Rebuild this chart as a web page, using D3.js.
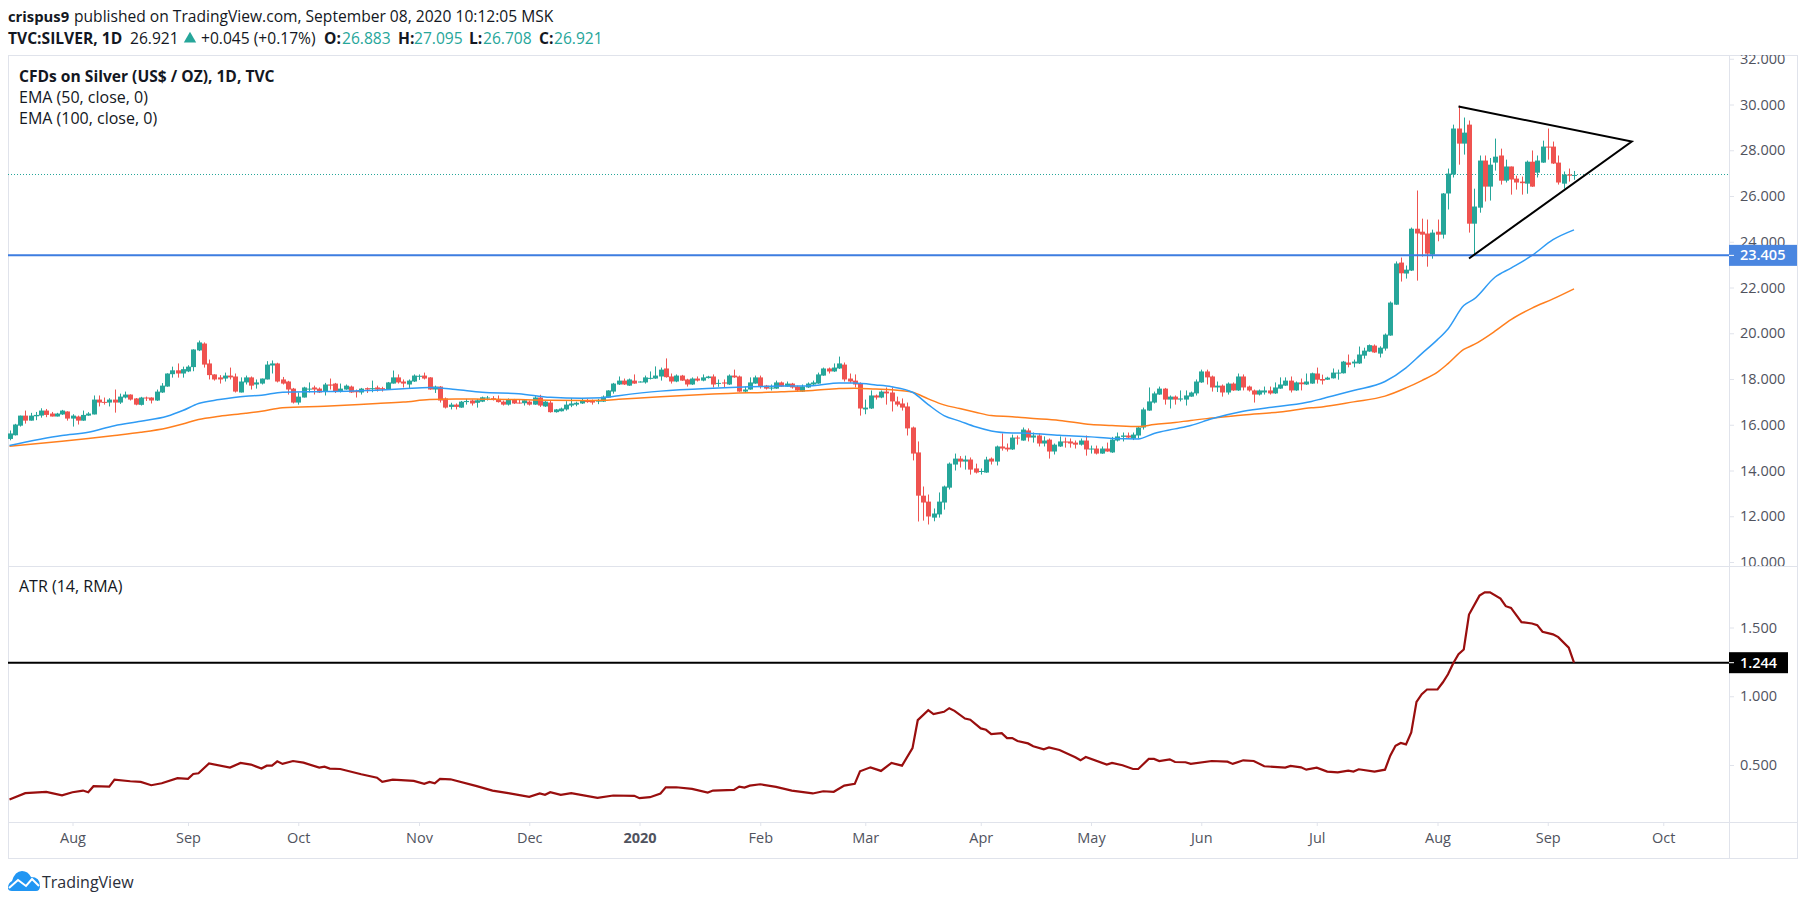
<!DOCTYPE html>
<html>
<head>
<meta charset="utf-8">
<title>CFDs on Silver</title>
<script src="https://cdnjs.cloudflare.com/ajax/libs/d3/7.8.5/d3.min.js"></script>
<style>
  body { margin: 0; background: #fff; }
  text { font-family: "Open Sans", sans-serif; }
</style>
</head>
<body>
<script>
// candles, one entry per trading day
var opens = [15.38,15.54,15.96,16.40,16.18,16.37,16.40,16.62,16.49,16.36,16.45,16.58,16.27,16.36,16.18,16.40,16.45,17.10,17.00,16.97,17.10,16.97,17.19,17.32,17.15,16.87,17.19,17.19,17.06,17.41,17.67,18.21,18.38,18.24,18.33,18.52,19.25,19.55,18.68,18.20,18.07,18.02,18.15,18.11,17.41,17.85,18.07,17.76,17.80,17.98,18.59,18.68,17.98,17.89,17.58,16.97,17.19,17.54,17.63,17.58,17.45,17.76,17.80,17.45,17.54,17.67,17.48,17.41,17.60,17.57,17.63,17.60,17.54,17.80,18.07,17.89,17.76,17.89,18.11,18.15,18.07,17.54,17.67,17.15,
  16.78,16.88,16.75,16.99,17.06,16.96,17.01,17.15,17.16,17.13,17.01,16.88,17.10,16.97,16.94,17.01,16.88,17.19,16.80,16.97,16.55,16.59,16.67,16.84,16.88,16.93,17.06,17.06,17.01,17.01,17.19,17.45,17.76,17.93,17.71,17.93,17.86,17.85,18.02,18.02,18.11,18.46,18.11,17.89,18.15,17.98,17.76,18.02,17.93,18.04,18.11,17.79,17.85,17.76,18.15,18.11,17.45,17.54,17.80,18.07,17.71,17.58,17.58,17.85,17.67,17.80,17.67,17.45,17.63,17.76,17.80,18.15,18.46,18.33,18.46,18.63,18.02,17.93,
  17.80,16.67,16.71,17.28,17.19,17.45,17.41,17.02,16.93,16.80,15.88,14.79,12.90,12.64,11.94,12.08,12.60,13.25,14.26,14.52,14.39,14.48,14.09,13.94,13.91,14.52,14.39,15.05,15.00,14.92,15.44,15.31,15.75,15.44,15.53,15.18,15.35,14.83,15.05,15.27,15.27,15.22,15.13,15.31,14.92,14.96,14.74,14.96,14.79,15.31,15.47,15.53,15.40,15.53,15.88,16.62,16.97,17.32,17.58,17.10,17.23,17.10,17.10,17.23,17.37,17.85,18.33,18.11,17.63,17.71,17.41,17.80,17.50,18.11,17.67,17.50,17.32,17.41,17.50,17.37,17.58,17.71,17.93,17.50,17.85,17.76,
  17.80,18.24,18.00,17.97,18.03,18.25,18.25,18.72,18.68,18.68,19.02,19.20,19.46,19.11,19.33,19.90,21.25,23.09,22.61,22.74,24.57,24.44,24.36,23.44,24.44,24.31,26.11,26.94,28.95,28.29,29.12,24.79,25.49,27.55,26.41,27.46,27.77,26.67,27.29,26.76,26.63,26.54,27.50,27.02,27.46,28.16,28.16,27.46,26.54,26.94,26.883];
var highs = [15.75,16.04,16.40,16.62,16.52,16.56,16.72,16.69,16.56,16.52,16.65,16.59,16.46,16.40,16.62,16.55,17.28,17.28,17.19,17.16,17.54,17.36,17.45,17.33,17.17,17.22,17.23,17.20,17.54,17.82,18.25,18.54,18.68,18.54,18.60,19.30,19.68,19.60,18.85,18.21,18.17,18.28,18.50,18.24,18.07,18.15,18.11,17.98,18.02,18.78,18.81,18.71,18.09,17.92,17.61,17.41,17.66,17.85,17.71,17.63,17.83,18.02,17.83,17.80,17.76,17.71,17.54,17.61,17.63,17.93,17.71,17.66,17.87,18.37,18.20,17.98,17.98,18.20,18.20,18.28,18.08,17.71,17.69,17.19,
  16.96,16.93,17.04,17.13,17.10,17.13,17.23,17.26,17.25,17.28,17.06,17.15,17.13,17.09,17.10,17.06,17.25,17.31,17.04,17.07,16.69,16.75,17.03,17.16,17.01,17.15,17.13,17.10,17.13,17.28,17.51,17.83,18.11,18.02,18.02,18.20,17.90,18.15,18.33,18.55,18.50,18.90,18.24,18.20,18.18,18.01,18.07,18.11,18.20,18.14,18.20,17.98,17.98,18.20,18.41,18.15,17.67,18.07,18.15,18.15,17.74,17.76,17.93,17.89,17.89,17.83,17.71,17.76,17.85,17.93,18.28,18.50,18.50,18.68,18.98,18.72,18.24,18.20,
  17.85,17.10,17.50,17.32,17.50,17.63,17.63,17.23,17.15,16.97,15.92,15.27,13.30,12.95,12.34,13.04,13.34,14.35,14.74,14.63,14.65,14.57,14.30,14.09,14.60,14.57,15.09,15.62,15.18,15.57,15.53,15.88,15.84,15.66,15.62,15.49,15.40,15.18,15.49,15.44,15.40,15.31,15.40,15.53,15.09,15.09,15.05,15.22,15.47,15.66,15.66,15.66,15.66,15.92,16.75,17.63,17.45,17.67,17.61,17.28,17.28,17.50,17.50,17.45,17.98,18.41,18.41,18.15,17.89,17.76,17.85,17.85,18.24,18.20,17.71,17.54,17.54,17.67,17.67,17.85,18.07,18.07,18.11,17.89,18.02,18.24,
  18.28,18.50,18.19,18.10,18.46,18.41,18.79,19.07,18.85,19.42,19.37,19.51,19.51,19.43,19.99,21.39,23.14,23.31,22.96,24.62,26.24,25.01,24.97,24.53,24.97,26.13,27.20,29.12,29.95,29.43,29.30,26.32,27.77,27.77,27.66,28.51,28.07,27.59,27.29,26.89,26.85,27.55,27.99,27.77,28.42,28.95,28.38,27.77,27.07,27.20,27.095];
var lows = [15.32,15.53,15.92,16.05,16.18,16.20,16.31,16.33,16.36,16.36,16.43,16.18,15.92,16.01,16.17,16.39,16.45,16.80,16.88,16.80,16.53,16.91,17.15,17.06,16.85,16.84,17.04,16.93,17.04,17.39,17.66,18.06,18.06,18.06,18.30,18.34,19.22,18.50,17.98,17.93,17.80,17.89,17.98,17.41,17.41,17.76,17.54,17.58,17.76,17.98,18.24,17.85,17.76,17.32,16.93,16.88,17.19,17.41,17.32,17.39,17.28,17.54,17.39,17.41,17.53,17.39,17.19,17.32,17.39,17.42,17.45,17.45,17.53,17.80,17.80,17.63,17.57,17.87,17.96,17.98,17.53,17.39,16.97,16.71,
  16.67,16.67,16.74,16.88,16.84,16.75,16.99,17.06,17.06,16.97,16.84,16.84,16.91,16.93,16.84,16.84,16.87,16.78,16.78,16.53,16.53,16.58,16.62,16.77,16.81,16.91,16.96,16.88,16.90,17.00,17.18,17.36,17.74,17.74,17.70,17.79,17.85,17.80,17.98,18.01,17.93,18.06,17.80,17.86,17.92,17.67,17.74,17.89,17.90,18.02,17.63,17.66,17.63,17.74,18.05,17.44,17.39,17.53,17.79,17.58,17.54,17.50,17.57,17.66,17.66,17.58,17.45,17.44,17.61,17.71,17.79,18.14,18.24,18.31,18.44,17.89,17.83,17.63,
  16.40,16.46,16.69,17.10,17.16,16.88,16.58,16.80,16.62,15.53,14.44,11.77,11.81,11.64,11.78,11.94,12.29,13.17,14.00,14.13,14.04,13.82,13.87,13.82,13.90,14.26,14.22,14.87,14.83,14.90,15.13,15.30,15.27,15.22,15.05,15.05,14.52,14.70,15.03,15.00,15.00,14.96,15.09,14.65,14.74,14.70,14.73,14.82,14.77,15.27,15.27,15.40,15.33,15.40,15.79,16.61,16.93,17.31,16.88,16.71,16.88,17.02,16.84,17.22,17.28,17.83,17.76,17.45,17.43,17.23,17.32,17.48,17.48,17.50,17.45,16.97,17.28,17.32,17.32,17.35,17.57,17.70,17.41,17.48,17.50,17.74,
  17.79,17.80,17.76,17.96,18.02,17.97,18.24,18.51,18.51,18.66,18.89,19.19,19.14,18.94,19.24,19.89,21.24,22.26,22.39,22.72,22.30,23.35,22.91,23.26,24.02,24.14,25.41,26.81,27.37,27.81,24.40,23.44,25.27,25.76,25.80,27.11,26.50,26.59,26.06,26.28,26.06,26.10,26.40,26.81,27.45,27.59,27.40,26.50,26.32,26.63,26.708];
var closes = [15.62,16.01,16.40,16.18,16.40,16.43,16.62,16.43,16.36,16.49,16.62,16.27,16.40,16.18,16.43,16.49,17.10,16.97,16.97,17.10,16.97,17.23,17.32,17.10,16.88,17.19,17.15,17.06,17.45,17.71,18.24,18.38,18.24,18.43,18.54,19.29,19.60,18.63,18.17,17.98,17.98,18.15,18.07,17.45,17.89,18.07,17.71,17.85,18.02,18.63,18.68,17.89,17.80,17.54,16.97,17.23,17.63,17.58,17.54,17.41,17.76,17.71,17.45,17.58,17.71,17.41,17.42,17.58,17.54,17.60,17.54,17.54,17.85,18.07,17.85,17.80,17.93,18.15,18.14,18.02,17.54,17.67,17.06,16.75,
  16.88,16.78,17.01,17.04,16.93,17.07,17.20,17.19,17.12,16.99,16.88,17.10,16.93,16.94,17.07,16.88,17.19,16.84,17.01,16.55,16.67,16.71,16.88,16.93,16.96,17.06,16.99,16.97,17.06,17.23,17.50,17.80,17.93,17.76,17.98,17.80,17.89,18.07,18.05,18.15,18.41,18.08,17.89,18.15,17.93,17.76,18.02,17.93,18.07,18.11,17.76,17.83,17.80,18.15,18.07,17.45,17.54,17.85,18.07,17.67,17.58,17.63,17.85,17.67,17.80,17.63,17.50,17.67,17.80,17.85,18.20,18.46,18.33,18.50,18.68,17.98,17.89,17.76,
  16.71,16.75,17.28,17.19,17.45,17.37,17.02,16.88,16.75,15.84,14.74,12.90,12.60,11.99,12.12,12.64,13.30,14.30,14.52,14.39,14.48,14.04,13.91,13.98,14.48,14.39,15.05,14.96,14.92,15.44,15.40,15.79,15.44,15.53,15.18,15.31,14.83,15.13,15.27,15.22,15.18,15.13,15.31,14.92,14.96,14.74,14.96,14.83,15.35,15.49,15.53,15.44,15.57,15.88,16.67,17.02,17.37,17.58,17.10,17.23,17.10,17.15,17.28,17.41,17.89,18.33,18.07,17.63,17.71,17.41,17.80,17.50,18.11,17.63,17.50,17.32,17.50,17.50,17.37,17.63,17.76,17.93,17.50,17.85,17.77,17.89,
  18.25,17.97,17.93,18.06,18.28,18.28,18.76,18.62,18.76,19.07,19.24,19.48,19.16,19.37,19.94,21.34,23.05,22.62,22.78,24.57,24.36,24.31,23.48,24.40,24.31,26.11,26.98,28.95,28.29,28.77,24.79,25.54,27.55,26.41,27.37,27.72,26.67,27.29,26.72,26.59,26.56,27.50,26.41,27.55,28.16,28.13,27.42,26.59,26.94,26.89,26.921];

// moving averages, read at these bars
var emaBars = [0,10,15,20,25,30,33,36,40,45,48,52,60,70,75,80,85,90,97,103,109,113,116,124,134,147,153,158,161,165,168,172,175,178,181,184,187,191,194,200,206,210,215,218,222,225,229,235,242,248,250,256,262,266,269,272,274,277,279,283,286,290,294,298];
var ema50 = [15.09,15.53,15.67,15.96,16.15,16.37,16.62,16.93,17.10,17.25,17.29,17.42,17.45,17.51,17.57,17.63,17.54,17.42,17.36,17.20,17.16,17.18,17.27,17.47,17.60,17.69,17.71,17.83,17.82,17.74,17.66,17.42,16.88,16.40,16.16,15.91,15.73,15.64,15.63,15.54,15.47,15.40,15.38,15.62,15.82,15.97,16.26,16.59,16.81,17.02,17.14,17.50,17.89,18.49,19.11,19.72,20.19,21.21,21.50,22.46,22.85,23.40,24.09,24.52];
var ema100 = [15.06,15.28,15.40,15.53,15.67,15.86,16.03,16.23,16.37,16.50,16.59,16.74,16.81,16.93,16.99,17.10,17.13,17.12,17.10,17.07,17.06,17.07,17.11,17.22,17.34,17.44,17.50,17.58,17.60,17.56,17.53,17.42,17.13,16.87,16.71,16.55,16.40,16.35,16.29,16.19,16.01,15.97,15.92,16.01,16.10,16.19,16.29,16.43,16.56,16.74,16.78,17.00,17.25,17.61,17.93,18.30,18.67,19.29,19.51,20.10,20.60,21.10,21.50,21.94];

// ATR pane
var atrBars = [0,3,7,10,12,14,15,16,19,20,23,25,27,29,32,34,35,36,38,42,44,46,48,49,50,51,52,54,56,59,60,61,63,67,70,71,73,77,79,80,81,82,84,89,92,95,99,101,102,103,105,107,112,115,119,120,122,124,125,127,130,133,134,138,139,140,141,143,146,149,153,155,157,159,161,162,164,166,168,170,172,173,175,176,178,179,180,182,183,185,186,187,189,190,191,192,194,195,197,198,200,203,204,205,209,210,212,214,215,217,218,219,221,222,224,225,229,232,233,235,237,239,243,244,246,247,249,251,253,255,256,257,260,262,263,264,265,266,267,268,269,270,272,273,274,275,276,277,278,280,281,282,284,285,286,288,290,291,292,294,295,297,298];
var atr = [0.249,0.295,0.305,0.280,0.302,0.314,0.302,0.346,0.343,0.394,0.382,0.377,0.353,0.367,0.404,0.399,0.435,0.440,0.512,0.481,0.515,0.503,0.474,0.495,0.495,0.527,0.508,0.529,0.517,0.481,0.488,0.474,0.471,0.433,0.408,0.377,0.394,0.384,0.363,0.377,0.367,0.399,0.396,0.346,0.314,0.295,0.268,0.293,0.283,0.302,0.283,0.295,0.261,0.278,0.276,0.259,0.266,0.293,0.338,0.338,0.326,0.300,0.314,0.319,0.343,0.336,0.350,0.360,0.341,0.314,0.293,0.309,0.305,0.350,0.363,0.454,0.483,0.457,0.515,0.495,0.623,0.826,0.899,0.870,0.887,0.913,0.894,0.838,0.829,0.766,0.756,0.725,0.732,0.696,0.696,0.674,0.657,0.636,0.614,0.628,0.609,0.556,0.534,0.558,0.503,0.515,0.498,0.471,0.471,0.544,0.544,0.529,0.541,0.522,0.520,0.508,0.529,0.524,0.508,0.534,0.529,0.491,0.481,0.493,0.483,0.466,0.481,0.452,0.447,0.459,0.452,0.469,0.452,0.466,0.568,0.640,0.660,0.650,0.737,0.959,1.015,1.049,1.049,1.100,1.160,1.240,1.305,1.340,1.594,1.732,1.756,1.756,1.710,1.655,1.643,1.539,1.529,1.517,1.469,1.450,1.430,1.353,1.244];

// axis labels
var priceTicks = [10,12,14,16,18,20,22,24,26,28,30,32];
var atrTicks = [0.5,1,1.5];
var monthBars = [12,34,55,78,99,120,143,163,185,206,227,249,272,293,315];
var monthNames = ["Aug","Sep","Oct","Nov","Dec","2020","Feb","Mar","Apr","May","Jun","Jul","Aug","Sep","Oct"];

// drawn levels and the triangle, [bar, price]
var supportLevel = 23.405;
var atrLevel = 1.244;
var lastPrice = 26.921;
var triangleBars = [278, 309, 276];
var trianglePrices = [23.27, 28.38, 29.91];

var green = "#26a69a", red = "#ef5350", border = "#e0e3eb", axisText = "#50535e", ink = "#131722";
var left = 8, right = 1729, outer = 1797, top_ = 55, split = 566, bottom = 822, foot = 858;

var svg = d3.select("body").append("svg")
  .attr("width", 1805)
  .attr("height", 905)
  .style("display", "block");

var x = d3.scaleLinear().domain([0, 298]).range([9.5, 1574]);
var y = d3.scaleLinear().domain([10, 32]).range([562, 58.75]);
var yAtr = d3.scaleLinear().domain([0.5, 1.5]).range([765, 627.5]);

var defs = svg.append("defs");
defs.append("clipPath").attr("id", "priceClip").append("rect")
  .attr("x", left).attr("y", top_).attr("width", outer - left).attr("height", split - top_);
defs.append("clipPath").attr("id", "atrClip").append("rect")
  .attr("x", left).attr("y", split).attr("width", outer - left).attr("height", bottom - split);

// frame
svg.append("rect").attr("x", left + 0.5).attr("y", top_ + 0.5)
  .attr("width", outer - left).attr("height", foot - top_)
  .attr("fill", "none").attr("stroke", border);
[[left, split, outer, split], [left, bottom, outer, bottom], [right, top_, right, foot]].forEach(function(l){
  svg.append("line")
    .attr("x1", l[0]).attr("y1", l[1] + 0.5).attr("x2", l[2]).attr("y2", l[3] + 0.5)
    .attr("transform", l[0] == l[2] ? "translate(0.5,-0.5)" : null)
    .attr("stroke", border);
});

// last price
svg.append("line")
  .attr("x1", left).attr("x2", right)
  .attr("y1", Math.round(y(lastPrice)) - 0.5).attr("y2", Math.round(y(lastPrice)) - 0.5)
  .attr("stroke", green).attr("stroke-dasharray", "1 2");

// axes
function styleAxis(g){
  g.select(".domain").remove();
  g.selectAll("line").attr("stroke", border);
  g.selectAll("text").attr("fill", axisText).style("font-size", "14.5px");
}

svg.append("g")
  .attr("clip-path", "url(#priceClip)")
  .append("g")
  .attr("transform", "translate(" + right + ",0)")
  .call(d3.axisRight(y).tickValues(priceTicks).tickSize(5).tickPadding(6).tickFormat(d3.format(".3f")))
  .call(styleAxis);

svg.append("g")
  .attr("transform", "translate(" + right + ",0)")
  .call(d3.axisRight(yAtr).tickValues(atrTicks).tickSize(5).tickPadding(6).tickFormat(d3.format(".3f")))
  .call(styleAxis);

svg.append("g")
  .attr("transform", "translate(0," + bottom + ")")
  .call(d3.axisBottom(x).tickValues(monthBars).tickSize(4).tickPadding(7)
    .tickFormat(function(d, i){ return monthNames[i]; }))
  .call(styleAxis)
  .selectAll("text")
  .style("font-weight", function(d, i){ return monthNames[i] == "2020" ? "700" : "400"; });

// candles
var bars = d3.range(opens.length);
var candles = svg.append("g").attr("class", "candles");

candles.selectAll("line")
  .data(bars)
  .enter()
  .append("line")
  .attr("x1", function(d){ return Math.round(x(d)) + 0.5; })
  .attr("x2", function(d){ return Math.round(x(d)) + 0.5; })
  .attr("y1", function(d){ return y(highs[d]); })
  .attr("y2", function(d){ return y(lows[d]); })
  .attr("stroke", function(d){ return closes[d] >= opens[d] ? green : red; });

candles.selectAll("rect")
  .data(bars)
  .enter()
  .append("rect")
  .attr("x", function(d){ return Math.round(x(d)) - 2; })
  .attr("width", 5)
  .attr("y", function(d){ return y(Math.max(opens[d], closes[d])); })
  .attr("height", function(d){ return Math.max(1, Math.abs(y(opens[d]) - y(closes[d]))); })
  .attr("fill", function(d){ return closes[d] >= opens[d] ? green : red; });

// EMAs
var emaLine = d3.line()
  .x(function(d){ return x(d[0]); })
  .y(function(d){ return y(d[1]); })
  .curve(d3.curveMonotoneX);

svg.append("path")
  .attr("d", emaLine(d3.zip(emaBars, ema100)))
  .attr("fill", "none").attr("stroke", "#ff7f1e").attr("stroke-width", 1.5);

svg.append("path")
  .attr("d", emaLine(d3.zip(emaBars, ema50)))
  .attr("fill", "none").attr("stroke", "#2f9bf4").attr("stroke-width", 1.5);

// support level and triangle
svg.append("line")
  .attr("x1", left).attr("x2", right)
  .attr("y1", y(supportLevel)).attr("y2", y(supportLevel))
  .attr("stroke", "#3d7de0").attr("stroke-width", 2);

var trianglePath = d3.line()
  .x(function(d){ return x(d[0]); })
  .y(function(d){ return y(d[1]); });

svg.append("path")
  .attr("d", trianglePath(d3.zip(triangleBars, trianglePrices)))
  .attr("fill", "none").attr("stroke", "#000").attr("stroke-width", 2);

// ATR pane
svg.append("line")
  .attr("x1", left).attr("x2", right)
  .attr("y1", yAtr(atrLevel)).attr("y2", yAtr(atrLevel))
  .attr("stroke", "#000").attr("stroke-width", 2);

svg.append("path")
  .attr("d", d3.line()
    .x(function(d){ return x(d[0]); })
    .y(function(d){ return yAtr(d[1]); })(d3.zip(atrBars, atr)))
  .attr("clip-path", "url(#atrClip)")
  .attr("fill", "none").attr("stroke", "#990e0e").attr("stroke-width", 2.2);

// price labels on the axis
function axisFlag(yPos, width, fill, label){
  svg.append("rect")
    .attr("x", right).attr("y", yPos - 10.5)
    .attr("width", width).attr("height", 21)
    .attr("fill", fill);
  svg.append("line")
    .attr("x1", right).attr("x2", right + 5).attr("y1", yPos).attr("y2", yPos)
    .attr("stroke", "#fff");
  svg.append("text")
    .attr("x", right + 11).attr("y", yPos)
    .attr("dy", "0.35em")
    .attr("fill", "#fff")
    .style("font-size", "14.5px")
    .style("font-weight", "600")
    .text(label);
}
axisFlag(y(supportLevel), 68, "#4a86e0", d3.format(".3f")(supportLevel));
axisFlag(yAtr(atrLevel), 59, "#000", d3.format(".3f")(atrLevel));

// header
function label(px, py, str, size, weight, fill){
  return svg.append("text")
    .attr("x", px).attr("y", py)
    .attr("fill", fill || ink)
    .style("font-size", size + "px")
    .style("font-weight", weight)
    .text(str);
}
label(8, 22, "crispus9", 14.8, 700);
label(74, 22, "published on TradingView.com, September 08, 2020 10:12:05 MSK", 15.6, 400);

label(8, 44, "TVC:SILVER, 1D", 15.6, 700);
label(130, 44, "26.921", 15.6, 400);
label(201, 44, "+0.045 (+0.17%)", 15.6, 400);
[["O:", "26.883", 324, 342], ["H:", "27.095", 398, 414], ["L:", "26.708", 469, 483], ["C:", "26.921", 539, 554]].forEach(function(p){
  label(p[2], 44, p[0], 15.6, 700);
  label(p[3], 44, p[1], 15.6, 400, green);
});

// small up arrow beside the change
svg.append("path")
  .attr("d", d3.symbol().type(d3.symbolTriangle).size(66)())
  .attr("transform", "translate(190,39)")
  .attr("fill", green);

// pane legends
label(19, 82, "CFDs on Silver (US$ / OZ), 1D, TVC", 15.6, 700);
label(19, 103, "EMA (50, close, 0)", 16, 400);
label(19, 124, "EMA (100, close, 0)", 16, 400);
label(19, 592, "ATR (14, RMA)", 16, 400);

// logo
var logo = svg.append("g").attr("transform", "translate(8,871)");
logo.append("path")
  .attr("d", "M0 17 Q0 12 4 10 Q7 0 14 0 Q20 0 23 6 Q32 6 32 15 Q32 20 28 20 L4 20 Q0 20 0 17 Z")
  .attr("fill", "#2196f3");
logo.append("path")
  .attr("d", "M1 17 L10 9 L18 15 L24 8 L31 15")
  .attr("fill", "none").attr("stroke", "#fff").attr("stroke-width", 2);
label(42, 888, "TradingView", 16, 400, "#2a2e39");
</script>
</body>
</html>
